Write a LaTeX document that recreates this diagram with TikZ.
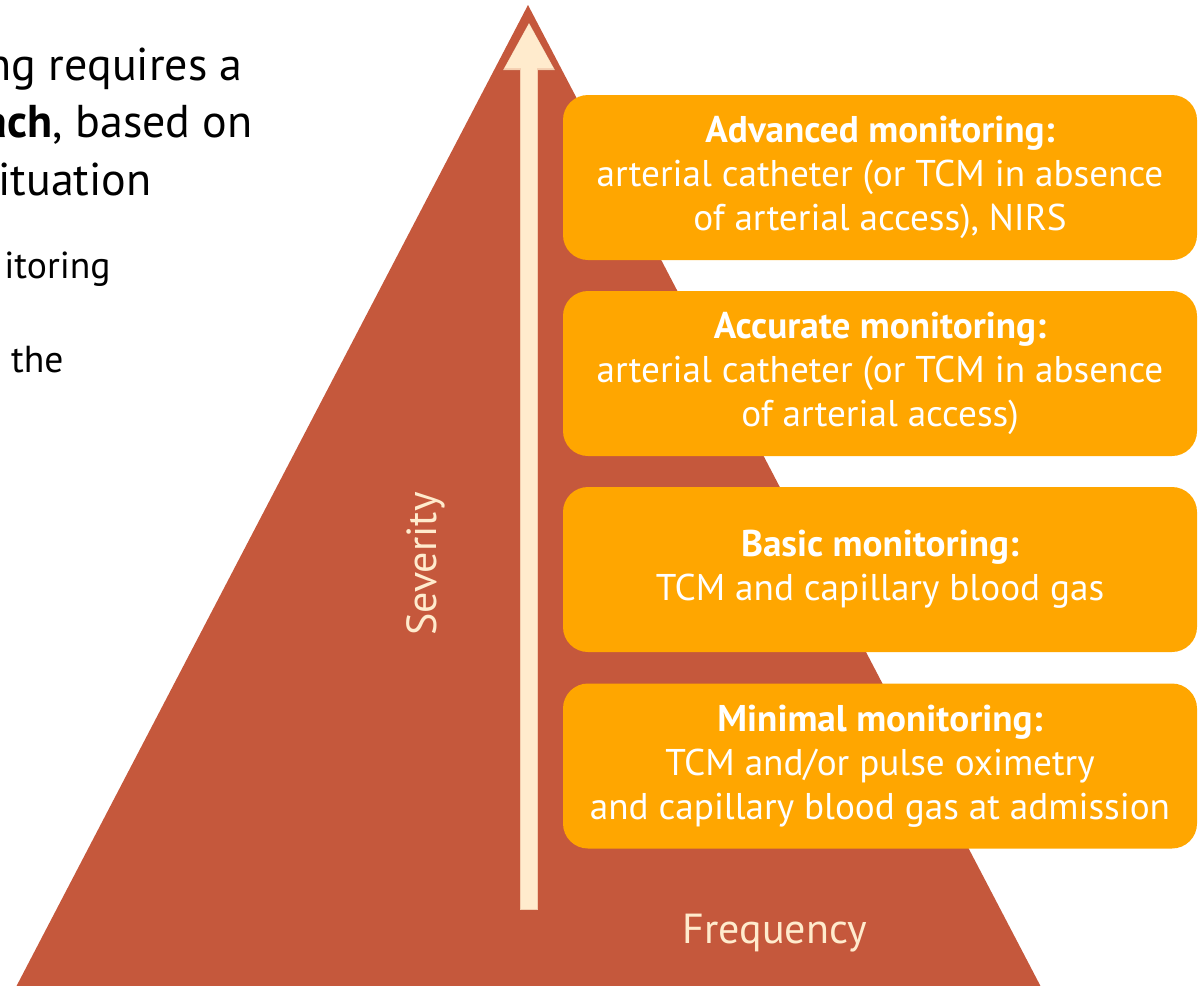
\documentclass[tikz,border=0pt]{standalone}
\usepackage{fontspec}
\setmainfont{PT Sans}
\usetikzlibrary{arrows.meta}

\definecolor{brick}{RGB}{197,88,60}
\definecolor{amber}{RGB}{255,166,0}
\definecolor{cream}{RGB}{255,235,205}

\tikzset{
  levelbox/.style={fill=amber, rounded corners=12.5pt, minimum width=317pt,
    minimum height=82.5pt, align=center, text=white, inner sep=0pt,
    font=\fontsize{18.6}{22}\selectfont},
  sidetext/.style={anchor=base east, inner sep=0pt, font=\fontsize{23}{27}\selectfont},
  subtext/.style={sidetext, font=\fontsize{18.8}{22}\selectfont},
  axislabel/.style={text=cream, inner sep=0pt, anchor=base, font=\fontsize{21}{24}\selectfont}
}

\begin{document}
\begin{tikzpicture}[x=0.5pt,y=-0.5pt]

		\useasboundingbox (0,0) rectangle (1199,985);
		\clip (0,0) rectangle (1199,985);

		% the pyramid
		\fill[brick] (528,5) -- (1041,987) -- (16,987) -- cycle;

		% severity arrow, with a soft shadow under it
		\coordinate (foot) at (529,910);
		\coordinate (tip) at (529,22);
		\begin{scope}[shift={(3,5)}]
		    \draw[black, opacity=0.2, line width=8.6pt, -{Triangle[width=24pt,length=24pt]}] (foot) -- (tip);
		\end{scope}
		\draw[cream!80!brick, line width=8.6pt, -{Triangle[width=24pt,length=24pt]}] (foot) -- (tip);
		\draw[cream, line width=7.6pt, shorten >=0.5pt, -{Triangle[width=22.6pt,length=22.6pt]}] (foot) ++(0,-0.8) -- (tip);

		\node (sev) at (436,564) [axislabel, rotate=90] {Severity};
		\node (freq) at (775,943) [axislabel] {Frequency};

		% monitoring levels
		\node (adv) at (880,177.5) [levelbox] {\textbf{Advanced monitoring:}\\arterial catheter (or TCM in absence\\of arterial access), NIRS};
		\node (acc) at (880,373.5) [levelbox] {\textbf{Accurate monitoring:}\\arterial catheter (or TCM in absence\\of arterial access)};
		\node (bas) at (880,569.5) [levelbox] {\textbf{Basic monitoring:}\\TCM and capillary blood gas};
		\node (min) at (880,766) [levelbox] {\textbf{Minimal monitoring:}\\TCM and/or pulse oximetry\\and capillary blood gas at admission};

		% text running in from the left
		\node (t1) at (243,80) [sidetext] {ng requires a};
		\node (t2) at (253,137) [sidetext] {\textbf{ach}, based on};
		\node (t3) at (152,195) [sidetext] {ituation};
		\node (t4) at (111,278) [subtext] {itoring};
		\node (t5) at (64,372) [subtext] {the};

	\end{tikzpicture}
\end{document}
